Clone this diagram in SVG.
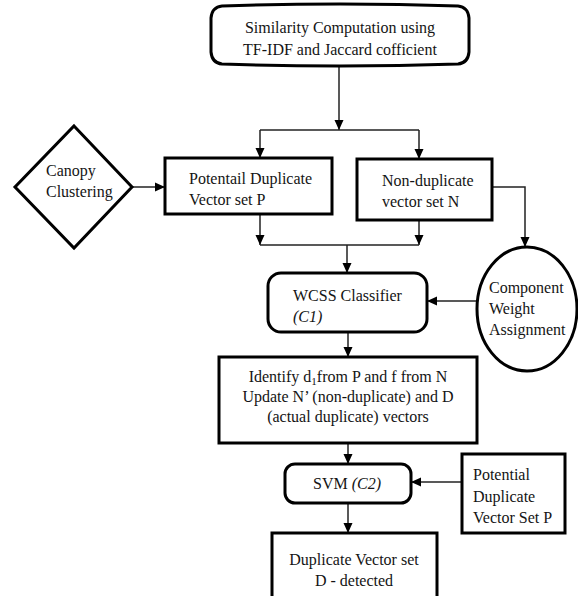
<svg xmlns="http://www.w3.org/2000/svg" width="578" height="596" viewBox="0 0 578 596">
<defs>
<marker id="ah" markerUnits="userSpaceOnUse" markerWidth="10" markerHeight="10" viewBox="0 0 10 10" refX="10" refY="5" orient="auto">
<path d="M0,0.5 L10,5 L0,9.5 Z" fill="#000"/>
</marker>
</defs>
<style>
.box{fill:#fff;stroke:#000;stroke-width:3}
text{font-family:'Liberation Serif','DejaVu Serif','Times New Roman',serif;font-size:16px;fill:#141414}
.c{text-anchor:middle}
.con{fill:none;stroke:#222;stroke-width:1.5}
</style>
<rect width="578" height="596" fill="#fff"/>
<g id="connectors">
<path class="con" d="M339,64 V130" marker-end="url(#ah)"/>
<path class="con" d="M260,130 H419"/>
<path class="con" d="M260,130 V158" marker-end="url(#ah)"/>
<path class="con" d="M419,130 V159" marker-end="url(#ah)"/>
<path class="con" d="M132,187 H165" marker-end="url(#ah)"/>
<path class="con" d="M260,214 V245" marker-end="url(#ah)"/>
<path class="con" d="M419,220 V245" marker-end="url(#ah)"/>
<path class="con" d="M260,245 H419"/>
<path class="con" d="M347,245 V273" marker-end="url(#ah)"/>
<path class="con" d="M492,187 H525 V247" marker-end="url(#ah)"/>
<path class="con" d="M477,301 H427" marker-end="url(#ah)"/>
<path class="con" d="M348,332 V357" marker-end="url(#ah)"/>
<path class="con" d="M348,443 V464" marker-end="url(#ah)"/>
<path class="con" d="M462,482 H411" marker-end="url(#ah)"/>
<path class="con" d="M348,503 V533" marker-end="url(#ah)"/>
</g>
<g id="similarity">
<path class="box" d="M222,6 Q340,2 458,6 Q468,7 469,18 V52 Q468,63 458,64 Q340,68 222,64 Q212,63 211,52 V18 Q212,7 222,6 Z"/>
<text class="c" x="340" y="33" font-family="Liberation Serif, serif">Similarity Computation using</text>
<text class="c" x="340" y="55">TF-IDF and Jaccard cofficient</text>
</g>
<g id="canopy">
<path class="box" d="M74,126 L132,187 L74,248 L15,187 Z"/>
<text x="46" y="176">Canopy</text>
<text x="46" y="197">Clustering</text>
</g>
<g id="potential">
<rect class="box" x="165" y="158" width="167" height="56"/>
<text x="189" y="184">Potentail Duplicate</text>
<text x="189" y="205">Vector set P</text>
</g>
<g id="nonduplicate">
<rect class="box" x="357" y="159" width="135" height="61"/>
<text x="382" y="186">Non-duplicate</text>
<text x="382" y="207">vector set N</text>
</g>
<g id="component">
<ellipse class="box" cx="527" cy="309" rx="50" ry="62"/>
<text x="489" y="293">Component</text>
<text x="489" y="314">Weight</text>
<text x="489" y="335">Assignment</text>
</g>
<g id="wcss">
<rect class="box" x="268" y="273" width="159" height="59" rx="13"/>
<text x="293" y="301">WCSS Classifier</text>
<text x="293" y="322" font-style="italic">(C1)</text>
</g>
<g id="identify">
<rect class="box" x="219" y="357" width="258" height="86"/>
<text class="c" x="348" y="382">Identify d<tspan font-size="11" dy="3">1</tspan><tspan dy="-3">from P and f from N</tspan></text>
<text class="c" x="348" y="402">Update N’ (non-duplicate) and D</text>
<text class="c" x="348" y="422">(actual duplicate) vectors</text>
</g>
<g id="svm">
<rect class="box" x="285" y="464" width="126" height="39" rx="10"/>
<text class="c" x="347" y="489">SVM <tspan font-style="italic">(C2)</tspan></text>
</g>
<g id="potential2">
<rect class="box" x="462" y="454" width="103" height="79"/>
<text x="473" y="480">Potential</text>
<text x="473" y="502">Duplicate</text>
<text x="473" y="523">Vector Set P</text>
</g>
<g id="detected">
<rect class="box" x="272" y="533" width="165" height="70"/>
<text class="c" x="354" y="565">Duplicate Vector set</text>
<text class="c" x="354" y="586">D - detected</text>
</g>
</svg>
